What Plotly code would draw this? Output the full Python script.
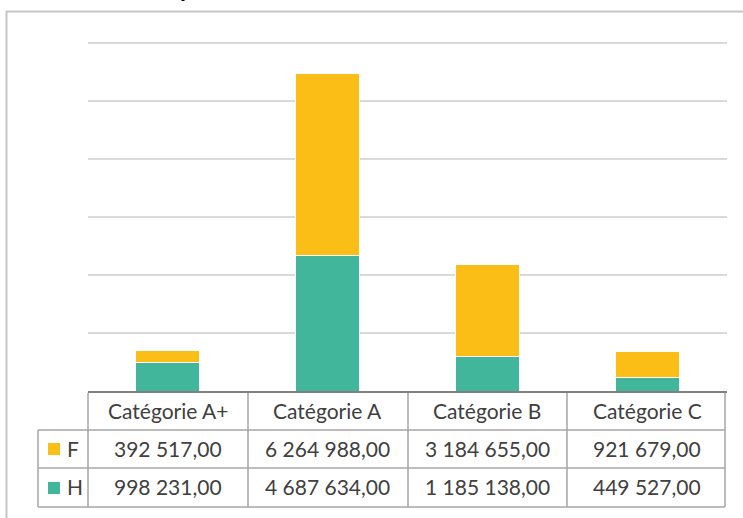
import plotly.graph_objects as go

categories = ["Catégorie A+", "Catégorie A", "Catégorie B", "Catégorie C"]
series_names = ["F", "H"]
values_F = [392517, 6264988, 3184655, 921679]
values_H = [998231, 4687634, 1185138, 449527]

COL_F = "#FBBE17"
COL_H = "#41B69A"
TXT = "#404040"
LINE = "#A6A6A6"
FONT = "Lato"
FS = 21

W, H = 743, 518
L, R = 88, 727          # plot area px
T, B = 38, 391
Y_TOP_TICK = 12e6
YMAX = Y_TOP_TICK * (B - T) / (B - 43)


def px(xp):
    return (xp - L) / (R - L)


def py(yp):
    return (B - yp) / (B - T)


def fmt(v):
    s = f"{v:,.2f}"
    return s.replace(",", "#").replace(".", ",").replace("#", " ")


fig = go.Figure()
fig.add_trace(go.Bar(x=categories, y=values_H, name="H", marker=dict(color=COL_H, line=dict(color="white", width=1))))
fig.add_trace(go.Bar(x=categories, y=values_F, name="F", marker=dict(color=COL_F, line=dict(color="white", width=1))))

shapes = []
# outer chart border
shapes.append(dict(type="rect", xref="paper", yref="paper", x0=px(6.5), x1=px(760), y0=py(11.5), y1=py(540),
                   line=dict(color="#C6C6C6", width=2), fillcolor="rgba(0,0,0,0)", layer="below"))
# table lines
row_y = [393, 430, 468, 507]
col_x = [88, 248, 408, 567, 725]
shapes.append(dict(type="line", xref="paper", yref="paper", x0=px(88), x1=px(727), y0=py(392), y1=py(392),
                   line=dict(color="#7F7F7F", width=2)))
for yy in row_y[1:]:
    shapes.append(dict(type="line", xref="paper", yref="paper", x0=px(38), x1=px(725), y0=py(yy), y1=py(yy),
                       line=dict(color=LINE, width=1.5)))
for xx in col_x:
    shapes.append(dict(type="line", xref="paper", yref="paper", x0=px(xx), x1=px(xx), y0=py(393), y1=py(507),
                       line=dict(color=LINE, width=1.5)))
shapes.append(dict(type="line", xref="paper", yref="paper", x0=px(38), x1=px(38), y0=py(430), y1=py(507),
                   line=dict(color=LINE, width=1.5)))
# legend keys
for (yc, col) in [(449, COL_F), (488, COL_H)]:
    shapes.append(dict(type="rect", xref="paper", yref="paper", x0=px(48), x1=px(60), y0=py(yc - 6), y1=py(yc + 6),
                       line=dict(width=0), fillcolor=col))

ann = []
for i, c in enumerate(categories):
    for txt, yc in [(c, 410), (fmt(values_F[i]), 448), (fmt(values_H[i]), 486)]:
        ann.append(dict(x=c, xref="x", y=py(yc), yref="paper", text=txt, showarrow=False,
                        font=dict(family=FONT, size=FS, color=TXT), xanchor="center", yanchor="middle"))
for name, yc in [("F", 448), ("H", 486)]:
    ann.append(dict(x=px(65), xref="paper", y=py(yc), yref="paper", text=name, showarrow=False,
                    font=dict(family=FONT, size=FS, color=TXT), xanchor="left", yanchor="middle"))
# cut-off title fragment at very top
ann.append(dict(x=px(187), xref="paper", y=py(-12), yref="paper", text="<b>p</b>", showarrow=False,
                font=dict(family=FONT, size=24, color="#000000"), xanchor="center", yanchor="middle"))

fig.update_layout(
    width=W, height=H,
    margin=dict(l=L, r=W - R, t=T, b=H - B),
    barmode="stack", bargap=0.6,
    plot_bgcolor="white", paper_bgcolor="white",
    showlegend=False,
    shapes=shapes, annotations=ann,
    xaxis=dict(showticklabels=False, showgrid=False, zeroline=False, showline=False, ticks=""),
    yaxis=dict(range=[0, YMAX], dtick=2e6, showticklabels=False, showgrid=True, gridcolor="#D9D9D9",
               gridwidth=1.5, zeroline=False, showline=False, ticks=""),
)

fig.write_html("out.html", config={"displayModeBar": False},
               post_script="document.body.style.margin='0';document.body.style.padding='0';")
